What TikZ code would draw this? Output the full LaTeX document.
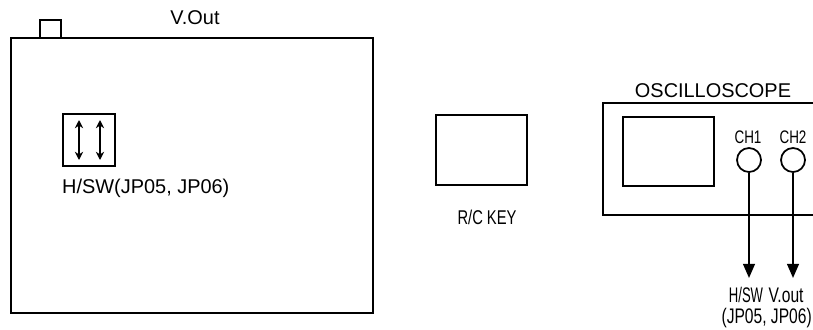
\documentclass[tikz,border=0pt]{standalone}
\usepackage{fontspec}
\setmainfont{Liberation Sans}
\newfontfamily\narrowfont[FakeStretch=0.74]{Liberation Sans}
\newfontfamily\condfont[FakeStretch=0.62]{Liberation Sans}
\usetikzlibrary{arrows.meta,positioning}
\tikzset{
    boxline/.style={line width=1.6pt, black},
    switcharrow/.style={
        line width=1.2pt,
        black,
        {Stealth[length=7pt, width=7pt]}-{Stealth[length=7pt, width=7pt]}
    },
    % probe leads out of the channels
    probearrow/.style={
        line width=1.6pt,
        black,
        -{Triangle[length=12pt, width=10pt]}
    },
    chan/.style={draw, circle, line width=1.5pt, minimum size=0.72cm, inner sep=0pt},
    biglabel/.style={font=\fontsize{17}{20}\selectfont, inner sep=0pt, anchor=base},
    narrowlabel/.style={font=\narrowfont\fontsize{18}{21}\selectfont, inner sep=0pt, anchor=base}
}

\begin{document}
\begin{tikzpicture}[x=0.03cm,y=-0.03cm]
   \useasboundingbox (0,0) rectangle (813,329);
   % board
   \draw[boxline] (11,38) rectangle (373,313);
   \draw[boxline] (40,20) rectangle (61,38);
   \node[biglabel] (voutlbl) at (195,24) {V.Out};
   \draw[boxline] (63,114) rectangle (115,166);
   \draw[switcharrow] (79,120) -- (79,160);
   \draw[switcharrow] (100,120) -- (100,160);
   \node[biglabel, anchor=base west] (swlbl) at (62,193) {H/SW(JP05, JP06)};
   % remote key
   \draw[boxline] (436,115) rectangle (527,185);
   \node[narrowlabel, font=\narrowfont\fontsize{17}{20}\selectfont] (rclbl) at (487,224) {R/C KEY};
   % scope
   \draw[boxline] (813,103) -- (603,103) -- (603,215) -- (813,215);
   \draw[boxline] (623,117) rectangle (714,186);
   \node[biglabel] (scopelbl) at (713,97) {OSCILLOSCOPE};
   \node[chan] (ch1) at (749,160) {};
   \node[chan] (ch2) at (793,160) {};
   \node[narrowlabel, font=\narrowfont\fontsize{15.5}{18}\selectfont] (ch1lbl) at (748,143) {CH1};
   \node[narrowlabel, font=\narrowfont\fontsize{15.5}{18}\selectfont] (ch2lbl) at (793,143) {CH2};
   \coordinate (tip1) at (749,278);
   \coordinate (tip2) at (793,278);
   \draw[probearrow] (ch1.south) -- (tip1);
   \draw[probearrow] (ch2.south) -- (tip2);
   \node[narrowlabel, font=\condfont\fontsize{18}{21}\selectfont] (hswlbl) at (746,302) {H/SW};
   \node[narrowlabel] (voutlbl2) at (786,302) {V.out};
   \node[narrowlabel, anchor=base east] (jplbl) at (812,323) {(JP05, JP06)};
\end{tikzpicture}
\end{document}
